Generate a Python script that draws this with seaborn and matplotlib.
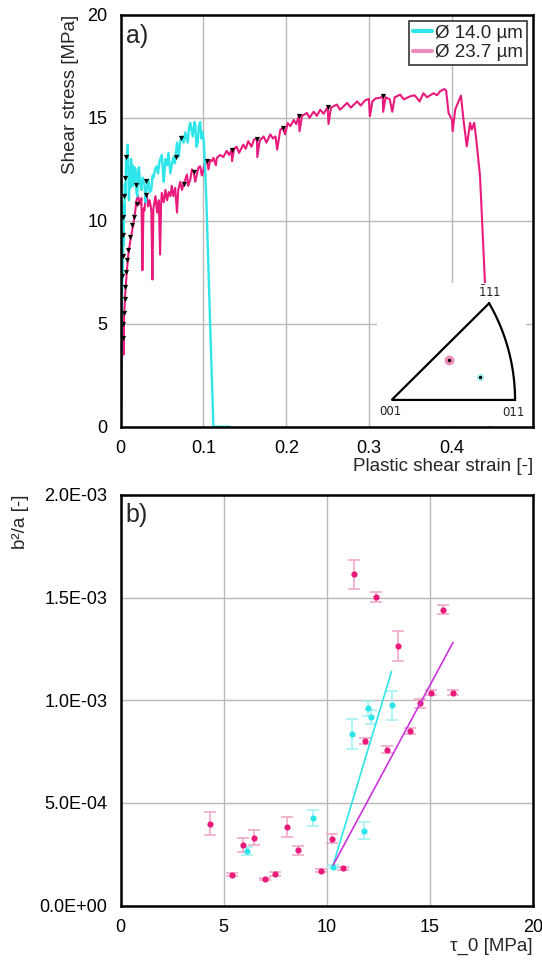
import matplotlib

matplotlib.use("Agg")

import matplotlib.pyplot as plt
import numpy as np
import seaborn as sns
from matplotlib.lines import Line2D
from matplotlib.ticker import FuncFormatter, MultipleLocator


# ---- panel a: shear stress vs plastic shear strain ----
CYAN_STRAIN = [
    0.0000, 0.0008, 0.0013, 0.0018, 0.0020, 0.0025, 0.0030, 0.0035, 0.0040, 0.0045,
    0.0050, 0.0058, 0.0065, 0.0075, 0.0085, 0.0092, 0.0100, 0.0108, 0.0117, 0.0125,
    0.0135, 0.0145, 0.0150, 0.0165, 0.0180, 0.0190, 0.0200, 0.0210, 0.0220, 0.0235,
    0.0250, 0.0265, 0.0287, 0.0300, 0.0315, 0.0335, 0.0350, 0.0370, 0.0385, 0.0395,
    0.0415, 0.0436, 0.0450, 0.0470, 0.0496, 0.0510, 0.0520, 0.0540, 0.0560, 0.0577,
    0.0600, 0.0620, 0.0640, 0.0655, 0.0680, 0.0700, 0.0720, 0.0740, 0.0760, 0.0780,
    0.0810, 0.0825, 0.0840, 0.0870, 0.0890, 0.0900, 0.0915, 0.0930, 0.0945, 0.0960,
    0.0975, 0.0990, 0.1005, 0.1035, 0.1080, 0.1120, 0.1320,
]
CYAN_STRESS = [
    0.0, 2.5, 5.0, 7.0, 8.0, 7.2, 9.5, 8.8, 10.8, 10.2,
    11.8, 11.2, 13.0, 12.6, 13.7, 12.4, 11.0, 12.6, 11.6, 13.0,
    12.0, 12.7, 11.7, 12.6, 12.5, 11.4, 11.2, 12.3, 12.6, 11.8,
    11.5, 12.1, 11.8, 10.9, 11.6, 12.0, 11.4, 11.5, 12.2, 12.1,
    12.5, 12.65, 12.3, 12.9, 13.2, 12.4, 11.9, 13.0, 12.7, 13.3,
    12.3, 12.8, 13.1, 12.8, 13.8, 13.1, 13.9, 14.1, 13.8, 14.3,
    13.8, 14.5, 14.75, 14.1, 14.8, 14.7, 13.6, 13.8, 14.6, 14.8,
    14.0, 14.3, 13.8, 11.0, 5.0, 0.0, 0.0,
]

PINK_STRAIN = [
    0.0000, 0.0010, 0.0020, 0.0028, 0.0033, 0.0040, 0.0052, 0.0073, 0.0093, 0.0115,
    0.0133, 0.0150, 0.0174, 0.0190, 0.0210, 0.0230, 0.0250, 0.0262, 0.0275, 0.0287,
    0.0300, 0.0315, 0.0330, 0.0350, 0.0370, 0.0383, 0.0395, 0.0420, 0.0440, 0.0460,
    0.0476, 0.0488, 0.0496, 0.0520, 0.0540, 0.0560, 0.0580, 0.0600, 0.0617, 0.0635,
    0.0658, 0.0680, 0.0695, 0.0720, 0.0740, 0.0760, 0.0780, 0.0800, 0.0815, 0.0840,
    0.0860, 0.0880, 0.0900, 0.0920, 0.0940, 0.0960, 0.0980, 0.1000, 0.1020, 0.1040,
    0.1060, 0.1080, 0.1100, 0.1120, 0.1150, 0.1160, 0.1200, 0.1240, 0.1280, 0.1310,
    0.1340, 0.1345, 0.1370, 0.1400, 0.1430, 0.1480, 0.1510, 0.1540, 0.1580, 0.1610,
    0.1646, 0.1650, 0.1680, 0.1726, 0.1760, 0.1807, 0.1840, 0.1870, 0.1890, 0.1928,
    0.1960, 0.1985, 0.2017, 0.2050, 0.2090, 0.2120, 0.2150, 0.2160, 0.2190, 0.2250,
    0.2280, 0.2330, 0.2370, 0.2410, 0.2450, 0.2500, 0.2510, 0.2540, 0.2610, 0.2650,
    0.2735, 0.2780, 0.2856, 0.2900, 0.2950, 0.2998, 0.3010, 0.3040, 0.3080, 0.3130,
    0.3165, 0.3170, 0.3200, 0.3250, 0.3280, 0.3310, 0.3375, 0.3420, 0.3496, 0.3550,
    0.3610, 0.3657, 0.3700, 0.3778, 0.3820, 0.3860, 0.3907, 0.3930, 0.3960, 0.4000,
    0.4010, 0.4040, 0.4080, 0.4110, 0.4140, 0.4180, 0.4220, 0.4240, 0.4270, 0.4295,
    0.4340, 0.4400, 0.4440, 0.4460,
]
PINK_STRESS = [
    0.0, 2.0, 4.3, 5.3, 3.5, 5.2, 6.3, 7.5, 8.4, 9.0,
    9.4, 9.8, 10.4, 11.0, 11.2, 10.8, 11.1, 7.6, 10.6, 10.5,
    11.2, 11.3, 10.7, 11.0, 10.5, 7.15, 10.6, 11.2, 10.4, 11.0,
    8.36, 10.8, 11.36, 10.9, 11.5, 11.0, 11.4, 11.2, 11.7, 11.2,
    11.6, 10.4, 11.5, 11.9, 11.5, 11.8, 12.0, 12.25, 11.7, 12.0,
    12.5, 12.4, 11.9, 12.25, 12.6, 12.65, 12.2, 12.5, 12.9, 12.9,
    12.5, 12.95, 12.9, 13.06, 12.7, 13.05, 13.2, 13.1, 13.4, 13.2,
    13.46, 12.9, 13.5, 13.6, 13.3, 13.7, 13.5, 13.87, 13.6, 13.95,
    13.98, 13.1, 13.9, 14.1, 13.8, 14.2, 14.0, 14.1, 13.46, 14.43,
    14.5, 14.2, 14.75, 14.6, 14.9, 14.7, 15.08, 14.35, 15.1, 15.24,
    15.0, 15.3, 15.1, 15.4, 15.2, 15.53, 14.7, 15.5, 15.65, 15.4,
    15.73, 15.5, 15.8, 15.6, 15.85, 15.92, 15.08, 15.8, 15.95, 15.97,
    16.05, 15.3, 16.0, 15.9, 15.3, 16.0, 16.13, 15.9, 16.05, 16.1,
    15.8, 16.2, 16.0, 16.2, 16.1, 16.3, 16.4, 16.34, 15.24, 14.92,
    14.35, 15.4, 15.8, 16.08, 14.92, 13.62, 14.76, 14.43, 14.76, 13.95,
    12.17, 6.98, 3.0, 0.0,
]

CYAN_MARK_STRAIN = [0.0020, 0.0022, 0.0024, 0.0028, 0.0036, 0.0048, 0.0065, 0.019, 0.030, 0.067, 0.073]
CYAN_MARK_STRESS = [7.3, 8.3, 9.3, 10.2, 11.2, 12.1, 13.1, 11.76, 11.95, 13.1, 14.0]
PINK_MARK_STRAIN = [
    0.0024, 0.0030, 0.0038, 0.0046, 0.0056, 0.0066, 0.0080, 0.0093, 0.0110, 0.0135, 0.0160,
    0.0194, 0.0307, 0.077, 0.088, 0.104, 0.134, 0.1646, 0.196, 0.215, 0.250, 0.3165,
]
PINK_MARK_STRESS = [
    4.3, 5.0, 5.5, 6.2, 6.8, 7.5, 8.1, 8.6, 9.2, 9.8, 10.2,
    10.8, 11.27, 11.8, 12.36, 12.9, 13.46, 13.98, 14.5, 15.08, 15.53, 16.05,
]

LEGEND_LABELS = ["Ø 14.0 µm", "Ø 23.7 µm"]

# inverse pole figure inset (triangle corners and grain orientations)
IPF_CORNERS = {"001": (0.0, 0.0), "011": (1.0, 0.0), "-111": (0.79, 0.784)}
IPF_PINK = (0.462, 0.322)
IPF_CYAN = (0.716, 0.184)

# ---- panel b: b^2/a vs tau_0 ----
PINK_TAU = [4.33, 5.39, 5.93, 6.47, 7.01, 7.48, 8.07, 8.61, 9.71, 10.24, 10.78,
            11.32, 11.83, 12.38, 12.92, 13.46, 14.02, 14.52, 15.06, 15.62, 16.12]
PINK_B2A = [0.399, 0.151, 0.295, 0.331, 0.131, 0.154, 0.382, 0.269, 0.170, 0.327, 0.182,
            1.614, 0.801, 1.504, 0.760, 1.264, 0.851, 0.985, 1.037, 1.442, 1.037]
PINK_ERR = [0.057, 0.006, 0.036, 0.036, 0.006, 0.008, 0.050, 0.022, 0.008, 0.020, 0.006,
            0.070, 0.016, 0.023, 0.016, 0.073, 0.015, 0.020, 0.013, 0.023, 0.013]

CYAN_TAU = [6.12, 9.32, 10.28, 11.20, 11.79, 11.98, 12.15, 13.14]
CYAN_B2A = [0.267, 0.426, 0.190, 0.836, 0.365, 0.961, 0.919, 0.976]
CYAN_ERR = [0.018, 0.040, 0.008, 0.072, 0.040, 0.036, 0.035, 0.070]

CYAN_FIT_TAU = [10.28, 13.14]
CYAN_FIT_B2A = [0.190, 1.141]
MAGENTA_FIT_TAU = [10.31, 16.12]
MAGENTA_FIT_B2A = [0.198, 1.282]

B2A_SCALE = 1e-3

CYAN = "#2ee6ea"
PINK = "#ea1a7c"
PINK_LIGHT = "#ee8cbc"
CYAN_LIGHT = "#9ef0f2"
PINK_ERRC = "#f0a2c4"
MAGENTA = "#cc33dd"
GRID = "#b8b8b8"


def style_axes(ax):
    for spine in ax.spines.values():
        spine.set_linewidth(1.8)
        spine.set_color("black")
    ax.tick_params(which="major", direction="inout", length=9, width=1.6,
                   labelsize=13, pad=5, colors="black")
    ax.tick_params(which="minor", direction="inout", length=5, width=1.6)
    ax.grid(True, which="major", color=GRID, linewidth=1.0)
    ax.set_axisbelow(True)


def draw_ipf_inset(fig):
    ax_in = fig.add_axes([0.6956, 0.5563, 0.2749, 0.1490])
    ax_in.set_xlim(-0.119, 1.089)
    ax_in.set_ylim(-0.211, 0.949)
    ax_in.set_xticks([])
    ax_in.set_yticks([])
    for spine in ax_in.spines.values():
        spine.set_visible(False)

    p001 = np.array(IPF_CORNERS["001"])
    p011 = np.array(IPF_CORNERS["011"])
    p111 = np.array(IPF_CORNERS["-111"])

    # great circle arc 011 -> -111, centre on the 001-011 line
    c = (p011[0] ** 2 - p111[0] ** 2 - p111[1] ** 2) / (2 * (p011[0] - p111[0]))
    r = p011[0] - c
    t_end = np.arctan2(p111[1], p111[0] - c)
    t = np.linspace(0, t_end, 60)
    arc_x = c + r * np.cos(t)
    arc_y = r * np.sin(t)

    xs = [p111[0], p001[0], p011[0]] + list(arc_x)
    ys = [p111[1], p001[1], p011[1]] + list(arc_y)
    ax_in.plot(xs, ys, color="black", lw=1.6, solid_joinstyle="miter")

    sns.scatterplot(x=[IPF_PINK[0]], y=[IPF_PINK[1]], s=50, color=PINK_LIGHT,
                    linewidth=0, ax=ax_in)
    sns.scatterplot(x=[IPF_CYAN[0]], y=[IPF_CYAN[1]], s=26, color=CYAN_LIGHT,
                    linewidth=0, ax=ax_in)
    sns.scatterplot(x=[IPF_PINK[0], IPF_CYAN[0]], y=[IPF_PINK[1], IPF_CYAN[1]],
                    s=6, color="black", linewidth=0, ax=ax_in)

    lab_kw = dict(fontsize=8.5, family="DejaVu Sans", color="#222222")
    ax_in.text(p001[0] - 0.014, p001[1] - 0.045, "001", ha="center", va="top", **lab_kw)
    ax_in.text(p011[0] - 0.014, p011[1] - 0.05, "011", ha="center", va="top", **lab_kw)
    ax_in.text(p111[0] + 0.006, p111[1] + 0.03, r"$\bar{1}$11", ha="center", va="bottom", **lab_kw)


def main() -> None:
    sns.set_theme(style="white")
    plt.rcParams["font.family"] = ["Liberation Sans", "DejaVu Sans"]
    plt.rcParams["mathtext.fontset"] = "dejavusans"

    fig = plt.figure(figsize=(5.42, 9.6), dpi=100)
    ax_a = fig.add_axes([0.2227, 0.5555, 0.7607, 0.4289])
    ax_b = fig.add_axes([0.2227, 0.0566, 0.7607, 0.4278])

    # ---------------- panel a ----------------
    sns.lineplot(x=PINK_STRAIN, y=PINK_STRESS, sort=False, estimator=None,
                 color=PINK, lw=1.5, ax=ax_a)
    sns.lineplot(x=CYAN_STRAIN, y=CYAN_STRESS, sort=False, estimator=None,
                 color=CYAN, lw=1.7, ax=ax_a)
    sns.scatterplot(x=CYAN_MARK_STRAIN, y=CYAN_MARK_STRESS, marker="v", s=14,
                    color="black", linewidth=0, ax=ax_a, zorder=4)
    sns.scatterplot(x=PINK_MARK_STRAIN, y=PINK_MARK_STRESS, marker="v", s=14,
                    color="black", linewidth=0, ax=ax_a, zorder=4)

    ax_a.set_xlim(0, 0.498)
    ax_a.set_ylim(0, 20)
    ax_a.xaxis.set_major_locator(MultipleLocator(0.1))
    ax_a.xaxis.set_minor_locator(MultipleLocator(0.05))
    ax_a.yaxis.set_major_locator(MultipleLocator(5))
    ax_a.yaxis.set_minor_locator(MultipleLocator(2.5))
    ax_a.xaxis.set_major_formatter(FuncFormatter(lambda v, _: "0" if abs(v) < 1e-9 else f"{v:.1f}"))
    ax_a.yaxis.set_major_formatter(FuncFormatter(lambda v, _: f"{v:g}"))
    style_axes(ax_a)

    ax_a.set_xlabel("Plastic shear strain [-]", fontsize=13.5, loc="right")
    ax_a.xaxis.set_label_coords(1.0, -0.075)
    ax_a.set_ylabel("Shear stress [MPa]", fontsize=13.5, loc="top")
    ax_a.yaxis.set_label_coords(-0.1, 1.0)
    ax_a.text(0.012, 0.978, "a)", transform=ax_a.transAxes, fontsize=18,
              ha="left", va="top")

    handles = [Line2D([], [], color=CYAN, lw=3), Line2D([], [], color=PINK_LIGHT, lw=3)]
    leg = ax_a.legend(handles, LEGEND_LABELS, loc="upper right", fontsize=13.5,
                      frameon=True, fancybox=False, framealpha=1, edgecolor="#333333",
                      handlelength=1.0, handletextpad=0.2, borderpad=0.22,
                      labelspacing=0.12, borderaxespad=0.3)
    leg.get_frame().set_linewidth(1.2)

    draw_ipf_inset(fig)

    # ---------------- panel b ----------------
    pink_y = [v * B2A_SCALE for v in PINK_B2A]
    pink_e = [v * B2A_SCALE for v in PINK_ERR]
    cyan_y = [v * B2A_SCALE for v in CYAN_B2A]
    cyan_e = [v * B2A_SCALE for v in CYAN_ERR]

    ax_b.errorbar(PINK_TAU, pink_y, yerr=pink_e, fmt="none", ecolor=PINK_ERRC,
                  elinewidth=1.1, capsize=4, capthick=1.1, zorder=2)
    ax_b.errorbar(CYAN_TAU, cyan_y, yerr=cyan_e, fmt="none", ecolor=CYAN_LIGHT,
                  elinewidth=1.1, capsize=4, capthick=1.1, zorder=2)
    sns.scatterplot(x=PINK_TAU, y=pink_y, s=20, color=PINK, linewidth=0, ax=ax_b, zorder=3)
    sns.scatterplot(x=CYAN_TAU, y=cyan_y, s=20, color=CYAN, linewidth=0, ax=ax_b, zorder=3)
    sns.lineplot(x=CYAN_FIT_TAU, y=[v * B2A_SCALE for v in CYAN_FIT_B2A], color=CYAN,
                 lw=1.2, ax=ax_b, zorder=4)
    sns.lineplot(x=MAGENTA_FIT_TAU, y=[v * B2A_SCALE for v in MAGENTA_FIT_B2A], color=MAGENTA,
                 lw=1.2, ax=ax_b, zorder=4)

    ax_b.set_xlim(0, 20)
    ax_b.set_ylim(0, 2e-3)
    ax_b.xaxis.set_major_locator(MultipleLocator(5))
    ax_b.xaxis.set_minor_locator(MultipleLocator(2.5))
    ax_b.yaxis.set_major_locator(MultipleLocator(0.5e-3))
    ax_b.yaxis.set_minor_locator(MultipleLocator(0.25e-3))
    ax_b.xaxis.set_major_formatter(FuncFormatter(lambda v, _: f"{v:g}"))
    ax_b.yaxis.set_major_formatter(FuncFormatter(lambda v, _: f"{v:.1E}"))
    style_axes(ax_b)

    ax_b.set_xlabel("τ_0 [MPa]", fontsize=13.5, loc="right")
    ax_b.xaxis.set_label_coords(1.0, -0.078)
    ax_b.set_ylabel("b²/a [-]", fontsize=13.5, loc="top")
    ax_b.yaxis.set_label_coords(-0.222, 1.0)
    ax_b.text(0.012, 0.98, "b)", transform=ax_b.transAxes, fontsize=18,
              ha="left", va="top")

    fig.savefig("out.png", dpi=100)
    plt.close(fig)


if __name__ == "__main__":
    main()
